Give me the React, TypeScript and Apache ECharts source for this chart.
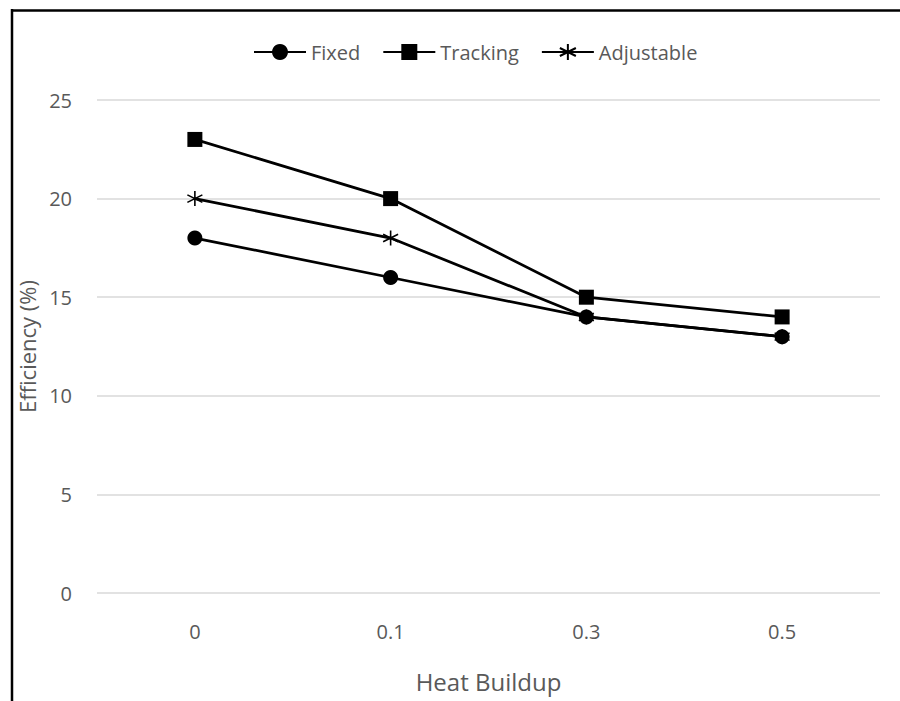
import React, { useEffect, useRef } from "react";
import * as echarts from "echarts";

const categories = ["0", "0.1", "0.3", "0.5"];
const fixedValues = [18, 16, 14, 13];
const trackingValues = [23, 20, 15, 14];
const adjustableValues = [20, 18, 14, 13];

const FONT = "'Open Sans', 'Liberation Sans', sans-serif";
const TEXT = "#595959";
const ASTERISK = "path://M0,-10L0,10M-8.66,-5L8.66,5M-8.66,5L8.66,-5";

export default function App() {
  const ref = useRef<HTMLDivElement>(null);
  useEffect(() => {
    const chart = echarts.init(ref.current!, null, { renderer: "svg" });
    const lineStyle = { color: "#000", width: 2.75 };
    chart.setOption({
      animation: false,
      backgroundColor: "#fff",
      textStyle: { fontFamily: FONT },
      graphic: [
        { type: "line", shape: { x1: 11, y1: 10.5, x2: 900, y2: 10.5 }, style: { stroke: "#000", lineWidth: 2.5 } },
        { type: "line", shape: { x1: 12, y1: 9, x2: 12, y2: 701 }, style: { stroke: "#000", lineWidth: 2.5 } },
      ],
      legend: {
        top: 37,
        left: 248,
        itemWidth: 52,
        itemHeight: 20,
        itemGap: 22,
        textStyle: { color: TEXT, fontSize: 20, fontFamily: FONT },
        data: ["Fixed", "Tracking", "Adjustable"],
      },
      grid: { left: 97, right: 20, top: 100, bottom: 108 },
      xAxis: {
        type: "category",
        data: categories,
        boundaryGap: true,
        axisLine: { show: false },
        axisTick: { show: false },
        axisLabel: { color: TEXT, fontSize: 20, margin: 28 },
        name: "Heat Buildup",
        nameLocation: "middle",
        nameGap: 76,
        nameTextStyle: { color: TEXT, fontSize: 24 },
      },
      yAxis: {
        type: "value",
        min: 0,
        max: 25,
        interval: 5,
        axisLine: { show: false },
        axisTick: { show: false },
        axisLabel: { color: TEXT, fontSize: 20, margin: 25 },
        splitLine: { lineStyle: { color: "#d9d9d9", width: 1.5 } },
        name: "Efficiency (%)",
        nameLocation: "middle",
        nameGap: 55,
        nameTextStyle: { color: TEXT, fontSize: 22 },
      },
      series: [
        {
          name: "Fixed",
          type: "line",
          data: fixedValues,
          symbol: "circle",
          symbolSize: 15,
          lineStyle,
          itemStyle: { color: "#000" },
          z: 3,
        },
        {
          name: "Tracking",
          type: "line",
          data: trackingValues,
          symbol: "rect",
          symbolSize: 15,
          lineStyle,
          itemStyle: { color: "#000" },
          z: 2,
        },
        {
          name: "Adjustable",
          type: "line",
          data: adjustableValues,
          symbol: ASTERISK,
          symbolSize: 15,
          lineStyle,
          itemStyle: { color: "#000", borderColor: "#000", borderWidth: 1.6 },
          z: 2,
        },
      ],
    });
    return () => chart.dispose();
  }, []);
  return (
    <div
      ref={ref}
      style={{ position: "fixed", left: 0, top: 0, width: 900, height: 701 }}
    />
  );
}
